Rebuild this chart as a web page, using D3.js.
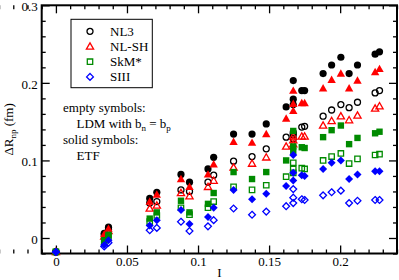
<!DOCTYPE html>
<html>
<head>
<meta charset="utf-8">
<script src="https://cdn.jsdelivr.net/npm/d3@7.9.0/dist/d3.min.js"></script>
<style>
  body { margin: 0; background: #fff; }
  svg { display: block; }
  text { font-family: "Liberation Serif", "DejaVu Serif", serif; }
</style>
</head>
<body>
<svg id="chart" width="399" height="280"></svg>
<script>
// isospin asymmetry I of each nucleus
const iValues = [0, 0.034, 0.037, 0.066, 0.071, 0.088, 0.094, 0.107, 0.111, 0.125, 0.138, 0.148, 0.162,
  0.167, 0.167, 0.167, 0.173, 0.175, 0.188, 0.194, 0.2005, 0.2063, 0.2122, 0.2246, 0.2277];

// solid symbols: ETF
const nl3Etf  = [-0.018, 0.006, 0.014, 0.051, 0.059, 0.082, 0.072, 0.089, 0.104, 0.134, 0.134, 0.147, 0.169,
  0.203, 0.179, 0.172, 0.190, 0.190, 0.212, 0.223, 0.233, 0.212, 0.223, 0.237, 0.240];
const nlshEtf = [-0.018, 0.005, 0.012, 0.047, 0.056, 0.076, 0.066, 0.082, 0.095, 0.124, 0.123, 0.134, 0.154,
  0.190, 0.173, 0.164, 0.174, 0.174, 0.193, 0.204, 0.212, 0.193, 0.203, 0.214, 0.218];
const skmEtf  = [-0.018, -0.003, 0.004, 0.025, 0.033, 0.048, 0.033, 0.044, 0.058, 0.085, 0.076, 0.085, 0.100,
  0.138, 0.118, 0.112, 0.117, 0.116, 0.130, 0.139, 0.145, 0.121, 0.129, 0.135, 0.137];
const siiiEtf = [-0.018, -0.009, -0.003, 0.016, 0.023, 0.036, 0.018, 0.027, 0.039, 0.062, 0.050, 0.057, 0.067,
  0.107, 0.084, 0.074, 0.081, 0.080, 0.089, 0.097, 0.100, 0.076, 0.082, 0.086, 0.086];

// empty symbols: LDM with bn = bp
const nl3Ldm  = [-0.018, 0.004, 0.011, 0.045, 0.047, 0.062, 0.060, 0.072, 0.081, 0.099, 0.105, 0.115, 0.130,
  0.136, 0.133, 0.128, 0.143, 0.144, 0.157, 0.165, 0.172, 0.168, 0.175, 0.187, 0.190];
const nlshLdm = [-0.018, 0.002, 0.009, 0.038, 0.042, 0.058, 0.054, 0.066, 0.074, 0.091, 0.096, 0.104, 0.118,
  0.131, 0.126, 0.121, 0.131, 0.131, 0.145, 0.151, 0.157, 0.152, 0.158, 0.167, 0.170];
const skmLdm  = [-0.018, -0.005, 0.002, 0.021, 0.029, 0.039, 0.030, 0.039, 0.047, 0.066, 0.062, 0.068, 0.079,
  0.097, 0.089, 0.084, 0.090, 0.089, 0.100, 0.105, 0.109, 0.096, 0.102, 0.107, 0.108];
const siiiLdm = [-0.018, -0.011, -0.006, 0.010, 0.013, 0.021, 0.009, 0.015, 0.023, 0.038, 0.030, 0.034, 0.041,
  0.063, 0.052, 0.045, 0.050, 0.049, 0.055, 0.059, 0.061, 0.045, 0.048, 0.049, 0.049];

const seriesNames = ['NL3', 'NL-SH', 'SkM*', 'SIII'];
const seriesColors = ['#000000', '#ff0000', '#008b00', '#0000ff'];
const seriesShapes = ['circle', 'triangle', 'square', 'diamond'];
const etfSets = [nl3Etf, nlshEtf, skmEtf, siiiEtf];
const ldmSets = [nl3Ldm, nlshLdm, skmLdm, siiiLdm];

const xTicks = [0, 0.05, 0.1, 0.15, 0.2];
const xTickLabels = ['0', '0.05', '0.1', '0.15', '0.2'];
const yTicks = [0, 0.1, 0.2, 0.3];
const yTickLabels = ['0', '0.1', '0.2', '0.3'];

const width = 399, height = 280;
const margin = { top: 5.3, right: 2, bottom: 26.5, left: 41.7 };

const svg = d3.select('#chart');

const x = d3.scaleLinear().domain([-0.01, 0.24]).range([margin.left, width - margin.right]);
const y = d3.scaleLinear().domain([-0.02, 0.3]).range([height - margin.bottom, margin.top]);

const x0 = margin.left, x1 = width - margin.right;
const y0 = height - margin.bottom, y1 = margin.top;

const xMinor = d3.range(-10, 25).map((d) => d / 100).filter((d) => !xTicks.some((t) => Math.abs(t - d) < 1e-9));
const yMinor = d3.range(-1, 15).map((d) => d / 50).filter((d) => !yTicks.some((t) => Math.abs(t - d) < 1e-9));

function styleAxis(g) {
  g.select('.domain').remove();
  g.selectAll('line').attr('stroke', '#000').attr('stroke-width', 1.3);
  g.selectAll('text').attr('font-size', 13).attr('fill', '#000')
    .style('font-family', '"Liberation Serif", serif');
}

// bottom
svg.append('g').attr('transform', `translate(0,${y0})`)
  .call(d3.axisBottom(x).tickValues(xTicks).tickFormat((d, i) => xTickLabels[i]).tickSize(-8).tickPadding(3.5))
  .call(styleAxis);
svg.append('g').attr('transform', `translate(0,${y0})`)
  .call(d3.axisBottom(x).tickValues(xMinor).tickFormat('').tickSize(-4))
  .call(styleAxis);
// top
svg.append('g').attr('transform', `translate(0,${y1})`)
  .call(d3.axisTop(x).tickValues(xTicks).tickFormat('').tickSize(-8))
  .call(styleAxis);
svg.append('g').attr('transform', `translate(0,${y1})`)
  .call(d3.axisTop(x).tickValues(xMinor).tickFormat('').tickSize(-4))
  .call(styleAxis);
// left
svg.append('g').attr('transform', `translate(${x0},0)`)
  .call(d3.axisLeft(y).tickValues(yTicks).tickFormat((d, i) => yTickLabels[i]).tickSize(-8).tickPadding(4))
  .call(styleAxis)
  .call((g) => g.selectAll('text').attr('dy', '0.42em'));
svg.append('g').attr('transform', `translate(${x0},0)`)
  .call(d3.axisLeft(y).tickValues(yMinor).tickFormat('').tickSize(-4))
  .call(styleAxis);
// right
svg.append('g').attr('transform', `translate(${x1},0)`)
  .call(d3.axisRight(y).tickValues(yTicks).tickFormat('').tickSize(-8))
  .call(styleAxis);
svg.append('g').attr('transform', `translate(${x1},0)`)
  .call(d3.axisRight(y).tickValues(yMinor).tickFormat('').tickSize(-4))
  .call(styleAxis);

svg.append('rect')
  .attr('x', x0).attr('y', y1).attr('width', x1 - x0).attr('height', y0 - y1)
  .attr('fill', 'none').attr('stroke', '#000').attr('stroke-width', 2);

function shapePath(shape, filled) {
  if (shape === 'circle') {
    const r = filled ? 3.6 : 3.0;
    return `M${r},0A${r},${r} 0 1,1 ${-r},0A${r},${r} 0 1,1 ${r},0Z`;
  }
  if (shape === 'triangle') {
    const s = filled ? 4.2 : 3.6;
    return `M0,${-s}L${s},${s * 0.75}L${-s},${s * 0.75}Z`;
  }
  if (shape === 'square') {
    const s = filled ? 3.2 : 2.7;
    return `M${-s},${-s}H${s}V${s}H${-s}Z`;
  }
  const r = filled ? 4.0 : 3.4;
  return `M0,${-r}L${r},0L0,${r}L${-r},0Z`;
}

const points = svg.append('g');
seriesNames.forEach((name, k) => {
  const color = seriesColors[k];
  const shape = seriesShapes[k];
  points.append('g').selectAll('path')
    .data(iValues.map((v, i) => [v, ldmSets[k][i]]))
    .join('path')
    .attr('transform', (d) => `translate(${x(d[0])},${y(d[1])})`)
    .attr('d', shapePath(shape, false))
    .attr('fill', 'none').attr('stroke', color).attr('stroke-width', 1.3);
  points.append('g').selectAll('path')
    .data(iValues.map((v, i) => [v, etfSets[k][i]]))
    .join('path')
    .attr('transform', (d) => `translate(${x(d[0])},${y(d[1])})`)
    .attr('d', shapePath(shape, true))
    .attr('fill', color).attr('stroke', 'none');
});

// legend
const legend = svg.append('g');
legend.append('rect')
  .attr('x', 71).attr('y', 19.3).attr('width', 81.3).attr('height', 68.4)
  .attr('fill', '#fff').attr('stroke', '#000').attr('stroke-width', 1);
seriesNames.forEach((name, k) => {
  const cy = 31.3 + k * 15.2;
  legend.append('path')
    .attr('transform', `translate(90,${cy})`)
    .attr('d', shapePath(seriesShapes[k], false))
    .attr('fill', 'none').attr('stroke', seriesColors[k]).attr('stroke-width', 1.3);
  legend.append('text')
    .attr('x', 110).attr('y', cy + 4.5)
    .attr('font-size', 13).text(name);
});

// annotation
const note = svg.append('g').attr('font-size', 13);
note.append('text').attr('x', 63).attr('y', 112).text('empty symbols:');
const ldm = note.append('text').attr('x', 76.5).attr('y', 128);
ldm.append('tspan').text('LDM with b');
ldm.append('tspan').attr('dy', 3).attr('font-size', 9).text('n');
ldm.append('tspan').attr('dy', -3).text(' = b');
ldm.append('tspan').attr('dy', 3).attr('font-size', 9).text('p');
note.append('text').attr('x', 63).attr('y', 144).text('solid symbols:');
note.append('text').attr('x', 76.5).attr('y', 160).text('ETF');

// axis titles
const ylab = svg.append('text')
  .attr('transform', `translate(13,${(y0 + y1) / 2}) rotate(-90)`)
  .attr('text-anchor', 'middle').attr('font-size', 13);
ylab.append('tspan').text('ΔR');
ylab.append('tspan').attr('dy', 3).attr('font-size', 9).text('np');
ylab.append('tspan').attr('dy', -3).text('  (fm)');

svg.append('text')
  .attr('x', (x0 + x1) / 2).attr('y', 277)
  .attr('text-anchor', 'middle').attr('font-size', 13).text('I');
</script>
</body>
</html>
